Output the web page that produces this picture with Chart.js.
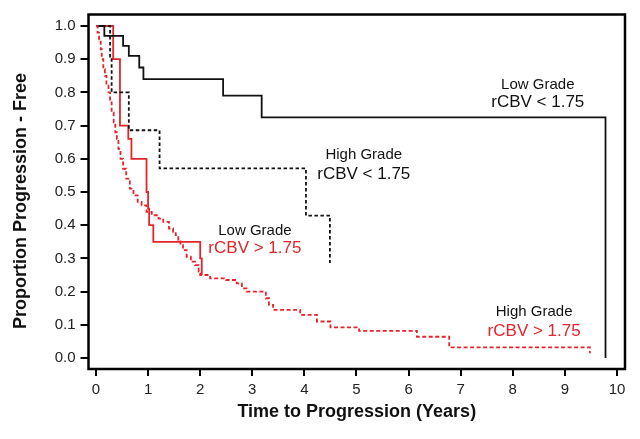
<!DOCTYPE html>
<html>
<head>
<meta charset="utf-8">
<script src="https://cdn.jsdelivr.net/npm/chart.js@4.4.1/dist/chart.umd.min.js"></script>
<style>
  html, body { margin: 0; padding: 0; background: #fff; }
  #wrap { width: 640px; height: 439px; }
</style>
</head>
<body>
<div id="wrap"><canvas id="c" width="640" height="439"></canvas></div>
<script>
// ---- Data ----
const xTicks = [0, 1, 2, 3, 4, 5, 6, 7, 8, 9, 10];
const yTicks = [0, 0.1, 0.2, 0.3, 0.4, 0.5, 0.6, 0.7, 0.8, 0.9, 1.0];

// Low Grade, rCBV < 1.75 (black solid)
const lgLowTime = [0, 0.16, 0.52, 0.63, 0.83, 0.91, 2.44, 3.18, 9.78];
const lgLowSurv = [1, 0.97, 0.94, 0.91, 0.875, 0.84, 0.79, 0.725, 0.0];

// High Grade, rCBV < 1.75 (black dashed)
const hgLowTime = [0, 0.27, 0.30, 0.63, 1.22, 4.03, 4.49];
const hgLowSurv = [1, 0.9, 0.8, 0.686, 0.571, 0.429, 0.286];

// Low Grade, rCBV > 1.75 (red solid)
const lgHighTime = [0, 0.33, 0.46, 0.62, 0.68, 0.97, 1.0, 1.02, 1.1, 2.0, 2.03];
const lgHighSurv = [1, 0.9, 0.7, 0.66, 0.6, 0.5, 0.45, 0.4, 0.35, 0.3, 0.25];

// High Grade, rCBV > 1.75 (red dashed)
const hgHighTime = [0, 0.03, 0.06, 0.09, 0.11, 0.14, 0.17, 0.20, 0.24, 0.27, 0.30, 0.34, 0.37, 0.40,
  0.43, 0.47, 0.52, 0.58, 0.65, 0.72, 0.80, 0.875, 0.97, 1.07, 1.2, 1.29, 1.40, 1.48, 1.53, 1.58,
  1.62, 1.67, 1.74, 1.82, 1.9, 1.97, 2.0, 2.19, 2.5, 2.7, 2.8, 2.89, 3.26, 3.32, 3.4, 3.92, 4.24,
  4.5, 5.05, 6.16, 6.78, 9.48];
const hgHighSurv = [1, 0.98, 0.96, 0.93, 0.90, 0.87, 0.85, 0.82, 0.80, 0.77, 0.74, 0.71, 0.68, 0.66,
  0.63, 0.60, 0.57, 0.54, 0.51, 0.49, 0.47, 0.46, 0.44, 0.43, 0.42, 0.41, 0.39, 0.38, 0.37, 0.355,
  0.34, 0.325, 0.305, 0.29, 0.28, 0.26, 0.25, 0.24, 0.235, 0.225, 0.21, 0.20, 0.18, 0.16, 0.145, 0.13, 0.11,
  0.092, 0.082, 0.064, 0.032, 0.014];

// Text labels (text, x in years, y in proportion, colour, size)
const labelText  = ['Low Grade', 'rCBV < 1.75', 'High Grade', 'rCBV < 1.75', 'Low Grade', 'rCBV > 1.75', 'High Grade', 'rCBV > 1.75'];
const labelX     = [8.48, 8.48, 5.14, 5.14, 3.05, 3.05, 8.41, 8.41];
const labelY     = [0.822, 0.771, 0.611, 0.554, 0.3825, 0.331, 0.1386, 0.0813];
const labelColor = ['#111', '#111', '#111', '#111', '#111', '#e3242b', '#111', '#e3242b'];
const labelSize  = [15, 17, 15, 17, 15, 17, 15, 17];

const BLACK = '#111111';
const RED = '#e3242b';
const FONT = "'Liberation Sans', Arial, Helvetica, sans-serif";

function pts(t, s) { return t.map((v, i) => ({ x: v, y: s[i] })); }

const framePlugin = {
  id: 'frame',
  afterDatasetsDraw(chart) {
    const a = chart.chartArea, ctx = chart.ctx;
    ctx.save();
    ctx.strokeStyle = '#000';
    ctx.lineWidth = 2.5;
    ctx.strokeRect(a.left, a.top, a.right - a.left, a.bottom - a.top);
    ctx.restore();
  },
  afterDraw(chart) {
    const ctx = chart.ctx, xs = chart.scales.x, ys = chart.scales.y;
    ctx.save();
    ctx.textAlign = 'center';
    ctx.textBaseline = 'middle';
    for (let i = 0; i < labelText.length; i++) {
      ctx.font = labelSize[i] + 'px ' + FONT;
      ctx.fillStyle = labelColor[i];
      ctx.fillText(labelText[i], xs.getPixelForValue(labelX[i]), ys.getPixelForValue(labelY[i]));
    }
    // axis titles
    ctx.fillStyle = '#111';
    ctx.font = 'bold 18px ' + FONT;
    ctx.fillText('Time to Progression (Years)', (chart.chartArea.left + chart.chartArea.right) / 2, 412);
    ctx.translate(21, 201);
    ctx.rotate(-Math.PI / 2);
    ctx.fillText('Proportion Progression - Free', 0, 0);
    ctx.restore();
  }
};

new Chart(document.getElementById('c'), {
  type: 'line',
  data: {
    datasets: [
      { data: pts(hgHighTime, hgHighSurv), borderColor: RED, borderWidth: 1.8, borderDash: [4, 2.5], stepped: true, pointRadius: 0, fill: false },
      { data: pts(hgLowTime, hgLowSurv), borderColor: BLACK, borderWidth: 1.8, borderDash: [3.5, 2.5], stepped: true, pointRadius: 0, fill: false },
      { data: pts(lgLowTime, lgLowSurv), borderColor: BLACK, borderWidth: 1.8, stepped: true, pointRadius: 0, fill: false },
      { data: pts(lgHighTime, lgHighSurv), borderColor: RED, borderWidth: 1.8, stepped: true, pointRadius: 0, fill: false }
    ]
  },
  options: {
    responsive: false,
    animation: false,
    devicePixelRatio: 1,
    layout: { padding: { top: 14.5, right: 15, left: 0, bottom: 0 } },
    plugins: { legend: { display: false }, tooltip: { enabled: false } },
    scales: {
      x: {
        type: 'linear',
        min: -0.144, max: 10.154,
        afterBuildTicks: s => { s.ticks = xTicks.map(v => ({ value: v })); },
        afterFit: s => { s.height = 70; },
        ticks: { callback: v => String(v), font: { family: FONT, size: 15 }, color: '#222', padding: 5, maxRotation: 0, autoSkip: false },
        grid: { drawOnChartArea: false, drawTicks: true, tickLength: 7, color: '#000', lineWidth: 2 },
        border: { display: false }
      },
      y: {
        type: 'linear',
        min: -0.0331, max: 1.0346,
        afterBuildTicks: s => { s.ticks = yTicks.map(v => ({ value: v })); },
        afterFit: s => { s.width = 88.5; },
        ticks: { callback: v => v.toFixed(1), font: { family: FONT, size: 15 }, color: '#222', padding: 5, autoSkip: false },
        grid: { drawOnChartArea: false, drawTicks: true, tickLength: 8, color: '#000', lineWidth: 2 },
        border: { display: false }
      }
    }
  },
  plugins: [framePlugin]
});
</script>
</body>
</html>
